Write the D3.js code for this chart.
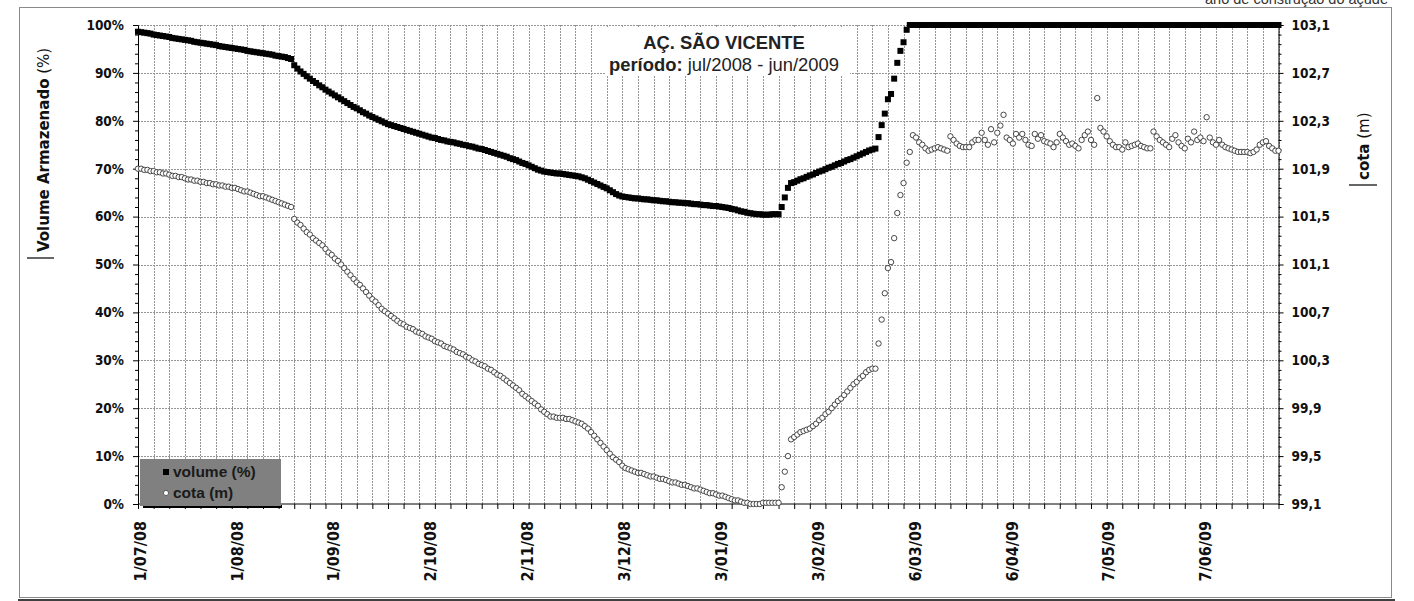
<!DOCTYPE html>
<html><head><meta charset="utf-8">
<script src="https://cdn.jsdelivr.net/npm/d3@7"></script>
<style>body{margin:0;background:#fff}svg{display:block}</style>
</head><body>
<svg id="c" width="1414" height="601"></svg>
<script>
// ---------- data ----------
const firstDay = "1/07/08";            // first daily reading
const lastAxisDay = "1/07/09";         // end of the date axis
const dateTickLabels = ["1/07/08","1/08/08","1/09/08","2/10/08","2/11/08","3/12/08","3/01/09","3/02/09","6/03/09","6/04/09","7/05/09","7/06/09"];
const volumeTicks = [0,10,20,30,40,50,60,70,80,90,100];
const cotaTicks = [99.1,99.5,99.9,100.3,100.7,101.1,101.5,101.9,102.3,102.7,103.1];
const seriesNames = ["volume (%)","cota (m)"];
const titleLine1 = "AÇ. SÃO VICENTE";
const titleLine2Bold = "período:";
const titleLine2 = " jul/2008 - jun/2009";

// daily stored volume (%), 1/07/08 .. 1/07/09
const volume = [
98.6,98.5,98.4,98.3,98.2,98.0,97.9,97.8,97.7,97.6,
97.5,97.3,97.2,97.1,97.0,96.9,96.8,96.7,96.5,96.4,
96.3,96.2,96.1,96.0,95.9,95.8,95.6,95.5,95.4,95.3,
95.2,95.1,95.0,94.9,94.8,94.6,94.5,94.4,94.3,94.2,
94.1,94.0,93.9,93.8,93.6,93.5,93.4,93.3,93.1,92.9,
91.6,90.9,90.3,89.8,89.3,88.8,88.3,87.9,87.4,87.0,
86.5,86.1,85.7,85.3,84.9,84.5,84.1,83.7,83.3,82.9,
82.6,82.2,81.8,81.5,81.1,80.8,80.5,80.2,79.9,79.6,
79.3,79.1,78.9,78.7,78.5,78.3,78.1,77.9,77.7,77.5,
77.3,77.1,76.9,76.7,76.5,76.4,76.2,76.0,75.9,75.7,
75.6,75.5,75.3,75.2,75.0,74.9,74.7,74.6,74.4,74.2,
74.1,73.9,73.7,73.5,73.3,73.1,72.9,72.7,72.5,72.2,
72.0,71.8,71.5,71.2,71.0,70.7,70.4,70.1,69.8,69.6,
69.4,69.3,69.2,69.1,69.0,69.0,68.9,68.8,68.7,68.6,
68.5,68.4,68.2,68.0,67.7,67.4,67.1,66.8,66.5,66.2,
65.9,65.5,65.1,64.7,64.4,64.2,64.1,64.0,63.9,63.8,
63.8,63.7,63.6,63.6,63.5,63.4,63.4,63.3,63.2,63.2,
63.1,63.0,63.0,62.9,62.9,62.8,62.8,62.7,62.6,62.6,
62.5,62.4,62.4,62.3,62.2,62.2,62.1,62.0,61.9,61.8,
61.6,61.5,61.3,61.1,61.0,60.8,60.7,60.6,60.5,60.5,
60.4,60.4,60.4,60.5,60.5,60.5,62.0,64.0,66.0,67.0,
67.2,67.5,67.8,68.0,68.3,68.6,68.8,69.1,69.4,69.6,
69.9,70.2,70.4,70.7,71.0,71.2,71.5,71.8,72.0,72.3,
72.6,72.9,73.2,73.5,73.8,74.0,74.2,76.6,79.1,81.5,
84.5,85.6,88.8,92.1,94.6,96.4,99.0,100,100,100,
100,100,100,100,100,100,100,100,100,100,
100,100,100,100,100,100,100,100,100,100,
100,100,100,100,100,100,100,100,100,100,
100,100,100,100,100,100,100,100,100,100,
100,100,100,100,100,100,100,100,100,100,
100,100,100,100,100,100,100,100,100,100,
100,100,100,100,100,100,100,100,100,100,
100,100,100,100,100,100,100,100,100,100,
100,100,100,100,100,100,100,100,100,100,
100,100,100,100,100,100,100,100,100,100,
100,100,100,100,100,100,100,100,100,100,
100,100,100,100,100,100
];

// daily water level (m)
const cota = [
101.90,101.90,101.89,101.89,101.88,101.88,101.87,101.87,101.86,101.86,
101.85,101.84,101.84,101.83,101.83,101.82,101.81,101.81,101.80,101.80,
101.79,101.79,101.78,101.78,101.77,101.77,101.76,101.76,101.75,101.75,
101.74,101.74,101.73,101.72,101.71,101.71,101.70,101.69,101.68,101.67,
101.67,101.66,101.65,101.64,101.63,101.62,101.61,101.60,101.59,101.58,
101.48,101.45,101.43,101.40,101.37,101.35,101.32,101.30,101.28,101.26,
101.23,101.20,101.18,101.15,101.13,101.10,101.07,101.04,101.01,100.98,
100.95,100.93,100.90,100.87,100.84,100.81,100.79,100.76,100.73,100.71,
100.69,100.67,100.65,100.63,100.61,100.60,100.58,100.57,100.56,100.54,
100.53,100.52,100.50,100.49,100.48,100.46,100.45,100.44,100.42,100.41,
100.40,100.39,100.37,100.36,100.35,100.33,100.32,100.30,100.29,100.27,
100.26,100.25,100.23,100.22,100.20,100.18,100.17,100.15,100.13,100.11,
100.09,100.07,100.05,100.02,100.00,99.98,99.96,99.94,99.92,99.89,
99.87,99.85,99.83,99.83,99.82,99.82,99.82,99.81,99.81,99.80,
99.79,99.78,99.77,99.75,99.73,99.70,99.67,99.64,99.61,99.58,
99.55,99.52,99.49,99.47,99.45,99.42,99.40,99.39,99.38,99.37,
99.36,99.36,99.35,99.34,99.33,99.33,99.32,99.31,99.31,99.30,
99.29,99.28,99.28,99.27,99.26,99.26,99.25,99.24,99.23,99.23,
99.22,99.21,99.20,99.19,99.19,99.18,99.17,99.17,99.16,99.15,
99.14,99.13,99.13,99.12,99.11,99.11,99.10,99.10,99.10,99.10,
99.11,99.11,99.11,99.11,99.11,99.11,99.24,99.37,99.50,99.64,
99.66,99.68,99.70,99.71,99.72,99.73,99.75,99.77,99.80,99.82,
99.85,99.87,99.90,99.93,99.96,99.98,100.01,100.04,100.07,100.10,
100.12,100.15,100.17,100.20,100.22,100.23,100.23,100.44,100.64,100.86,
101.07,101.12,101.32,101.53,101.68,101.78,101.95,102.04,102.18,102.16,
102.12,102.10,102.07,102.05,102.06,102.07,102.08,102.07,102.06,102.05,
102.17,102.14,102.11,102.09,102.08,102.08,102.08,102.12,102.14,102.14,
102.20,102.14,102.10,102.23,102.12,102.20,102.26,102.35,102.16,102.14,
102.11,102.19,102.16,102.19,102.14,102.10,102.09,102.19,102.15,102.18,
102.13,102.12,102.11,102.08,102.12,102.19,102.16,102.13,102.10,102.11,
102.09,102.07,102.14,102.18,102.21,102.14,102.10,102.49,102.24,102.21,
102.17,102.13,102.10,102.08,102.08,102.06,102.12,102.08,102.09,102.10,
102.11,102.09,102.08,102.07,102.07,102.21,102.17,102.14,102.12,102.10,
102.08,102.15,102.18,102.12,102.09,102.07,102.15,102.12,102.21,102.14,
102.16,102.13,102.33,102.16,102.12,102.10,102.14,102.10,102.08,102.07,
102.06,102.05,102.04,102.04,102.04,102.04,102.03,102.04,102.06,102.10,
102.12,102.13,102.09,102.07,102.05,102.05
];

// ---------- chart ----------
const svg = d3.select("#c");
const parse = d3.utcParse("%d/%m/%y");
const t0 = parse(firstDay), t1 = parse(lastAxisDay);
const dates = volume.map((_, i) => d3.utcDay.offset(t0, i));

const L = 138, R = 1278.5, T = 25, B = 504;
const x = d3.scaleUtc().domain([t0, t1]).range([L, R]);
const yL = d3.scaleLinear().domain([0, 100]).range([B, T]);
const yR = d3.scaleLinear().domain([cotaTicks[0], cotaTicks[cotaTicks.length-1]]).range([B, T]);

const tickFont = "'DejaVu Sans Condensed','DejaVu Sans',sans-serif";

// outer frame
svg.append("rect").attr("x",19.5).attr("y",7.5).attr("width",1372).attr("height",590)
  .attr("fill","none").attr("stroke","#8a8a8a").attr("stroke-width",1);
svg.append("line").attr("x1",18).attr("x2",1395).attr("y1",600).attr("y2",600)
  .attr("stroke","#000").attr("stroke-width",1.5);

// top-right text (cut by the top edge, as in the original)
svg.append("text").attr("x",1205).attr("y",4).attr("font-family","'Liberation Sans',Arial,sans-serif")
  .attr("font-size",14.5).attr("fill","#333").text("ano de construção do açude");

// gridlines
const grid = svg.append("g").attr("stroke","#959595").attr("stroke-width",1).attr("stroke-dasharray","2,1")
  .attr("shape-rendering","crispEdges");
const gridDays = d3.utcDay.range(t0, d3.utcDay.offset(t1,1)).filter((d,i)=> i % 5 === 0);
grid.selectAll(".v").data(gridDays).join("line")
  .attr("x1",d=>Math.round(x(d))+0.5).attr("x2",d=>Math.round(x(d))+0.5).attr("y1",T).attr("y2",B);
grid.selectAll(".h").data(volumeTicks.slice(1)).join("line")
  .attr("x1",L).attr("x2",R).attr("y1",d=>Math.round(yL(d))+0.5).attr("y2",d=>Math.round(yL(d))+0.5);

// title box
svg.append("rect").attr("x",606).attr("y",27).attr("width",244).attr("height",48).attr("fill","#fff");
const tt = svg.append("g").attr("font-family","'Liberation Sans',Arial,sans-serif").attr("fill","#222").attr("text-anchor","middle");
tt.append("text").attr("x",724).attr("y",49).attr("font-size",18.4).attr("font-weight","bold").text(titleLine1);
const t2 = tt.append("text").attr("x",724).attr("y",70.5).attr("font-size",18.4);
t2.append("tspan").attr("font-weight","bold").text(titleLine2Bold);
t2.append("tspan").text(titleLine2);

// left axis
const minorVals = d3.range(0, 101, 2).filter(v => v % 10 !== 0);
const gl = svg.append("g").attr("transform",`translate(${L},0)`);
gl.call(d3.axisLeft(yL).tickValues(volumeTicks).tickFormat(d=>d+"%").tickSize(5).tickPadding(9));
gl.append("g").call(d3.axisLeft(yL).tickValues(minorVals).tickFormat("").tickSize(3));
gl.selectAll(".domain").attr("stroke","#000");
gl.selectAll("text").attr("font-family",tickFont).attr("font-stretch","condensed").attr("font-weight","bold")
  .attr("font-size",13.5).attr("fill","#111");
gl.selectAll("g g .domain").remove();

// right axis
const gr = svg.append("g").attr("transform",`translate(${R},0)`);
gr.call(d3.axisRight(yR).tickValues(cotaTicks).tickFormat(d=>d.toFixed(1).replace(".",",")).tickSize(5).tickPadding(8));
gr.append("g").call(d3.axisRight(yL).tickValues(minorVals).tickFormat("").tickSize(3));
gr.selectAll("text").attr("font-family",tickFont).attr("font-stretch","condensed").attr("font-weight","bold")
  .attr("font-size",13.5).attr("fill","#111");
gr.selectAll("g g .domain").remove();

// bottom axis
const gb = svg.append("g").attr("transform",`translate(0,${B})`);
gb.call(d3.axisBottom(x).tickValues(gridDays).tickFormat("").tickSize(5));
gb.selectAll(".domain").attr("d",`M${L},0H${R}`);
svg.selectAll(".tick line").attr("stroke","#000");

// date labels
svg.append("g").selectAll("text").data(dateTickLabels).join("text")
  .attr("transform",d=>`translate(${x(parse(d))+2},521) rotate(-90)`)
  .attr("dy","0.36em").attr("text-anchor","end")
  .attr("font-family",tickFont).attr("font-stretch","condensed").attr("font-weight","bold")
  .attr("font-size",16).attr("fill","#111").text(d=>d);

// axis titles
const at = svg.append("g").attr("font-family","'DejaVu Sans',sans-serif").attr("font-size",15).attr("fill","#111");
const lt = at.append("text").attr("transform","translate(49,252) rotate(-90)");
lt.append("tspan").attr("font-weight","bold").text("Volume Armazenado");
lt.append("tspan").text(" (%)");
at.append("line").attr("x1",27).attr("x2",54).attr("y1",258).attr("y2",258).attr("stroke","#000").attr("stroke-width",1.2);
const rt = at.append("text").attr("transform","translate(1369,180) rotate(-90)");
rt.append("tspan").attr("font-weight","bold").text("cota");
rt.append("tspan").text(" (m)");
at.append("line").attr("x1",1349).attr("x2",1377).attr("y1",185).attr("y2",185).attr("stroke","#000").attr("stroke-width",1.2);

// series
svg.append("g").selectAll("rect").data(volume).join("rect")
  .attr("x",(d,i)=>x(dates[i])-3).attr("y",d=>yL(d)-3).attr("width",6).attr("height",6).attr("fill","#000");
svg.append("g").selectAll("circle").data(cota).join("circle")
  .attr("cx",(d,i)=>x(dates[i])).attr("cy",d=>yR(d)).attr("r",2.7)
  .attr("fill","#fff").attr("stroke","#333").attr("stroke-width",0.9);

// legend
const lg = svg.append("g");
lg.append("rect").attr("x",143).attr("y",505).attr("width",139).attr("height",3).attr("fill","#000");
lg.append("rect").attr("x",140).attr("y",459).attr("width",141).attr("height",47).attr("fill","#808080");
lg.append("rect").attr("x",163).attr("y",469).attr("width",6).attr("height",6).attr("fill","#000");
lg.append("circle").attr("cx",166).attr("cy",493).attr("r",2.6).attr("fill","#fff").attr("stroke","#444").attr("stroke-width",0.8);
const lgt = lg.append("g").attr("font-family","'Liberation Sans',Arial,sans-serif").attr("font-weight","bold")
  .attr("font-size",15.5).attr("fill","#1a1a1a");
lgt.append("text").attr("x",173).attr("y",477).text(seriesNames[0]);
lgt.append("text").attr("x",173).attr("y",498).text(seriesNames[1]);
</script>
</body></html>
